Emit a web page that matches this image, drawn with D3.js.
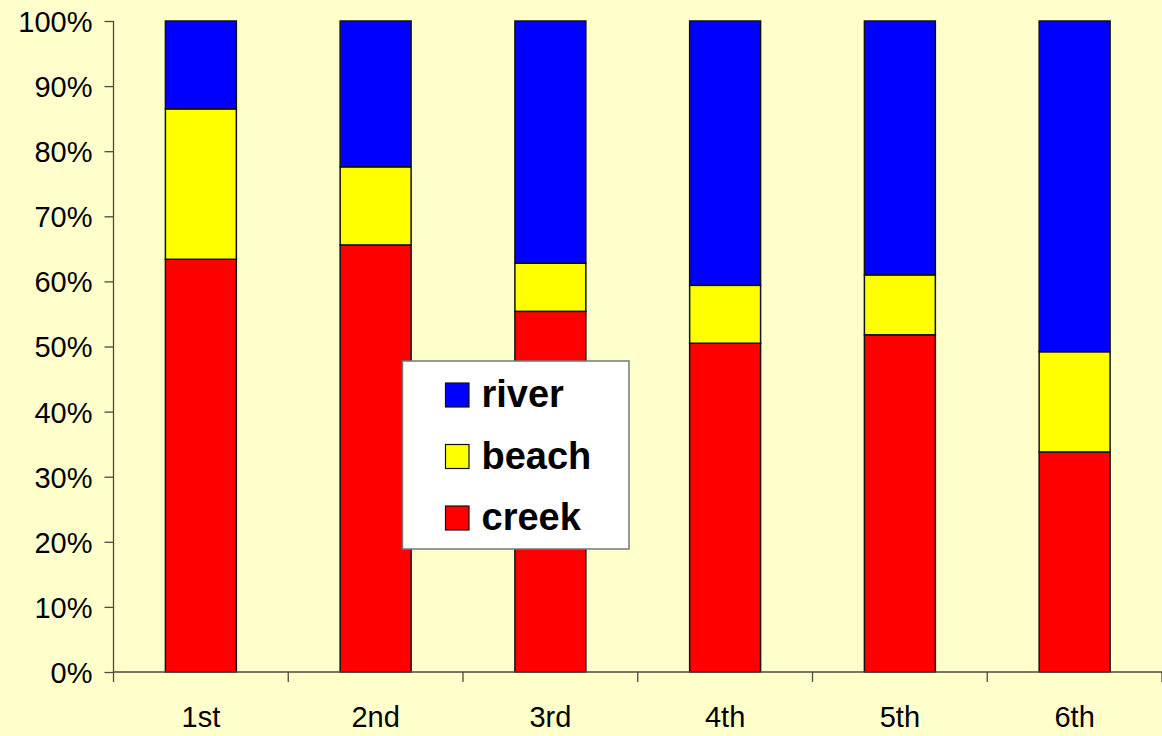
<!DOCTYPE html>
<html>
<head>
<meta charset="utf-8">
<script src="https://cdn.jsdelivr.net/npm/d3@7"></script>
<style>
  html, body { margin: 0; padding: 0; background: #FFFFCC; }
  svg { display: block; }
  text { font-family: "Liberation Sans", Arial, sans-serif; fill: #000; }
</style>
</head>
<body>
<svg id="chart" width="1162" height="736"></svg>
<script>
// Share of each site type per round (percent of total)
const categories = ["1st", "2nd", "3rd", "4th", "5th", "6th"];
const creek = [63.4, 65.6, 55.4, 50.5, 51.8, 33.8];
const beach = [23.1, 12.0, 7.4, 8.9, 9.2, 15.4];
const river = [13.5, 22.4, 37.2, 40.6, 39.0, 50.8];
const seriesKeys = ["creek", "beach", "river"];
const seriesColors = { creek: "#FF0000", beach: "#FFFF00", river: "#0000FF" };
const yTicks = [0, 0.1, 0.2, 0.3, 0.4, 0.5, 0.6, 0.7, 0.8, 0.9, 1.0];

const rows = categories.map((c, i) => ({ cat: c, creek: creek[i], beach: beach[i], river: river[i] }));

const svg = d3.select("#chart");
const W = 1162, H = 736;
const plotLeft = 113.5, plotRight = 1162, plotTop = 21, plotBottom = 672;
const axisColor = "#4a4a40";

svg.append("rect").attr("width", W).attr("height", H).attr("fill", "#FFFFCC");

const x = d3.scaleBand().domain(categories).range([plotLeft, plotRight]).paddingInner(0.594).paddingOuter(0.297);
const y = d3.scaleLinear().domain([0, 1]).range([plotBottom, plotTop]);

const stacked = d3.stack().keys(seriesKeys).offset(d3.stackOffsetExpand)(rows);

// Stacked bars
svg.append("g").selectAll("g").data(stacked).join("g")
  .attr("fill", d => seriesColors[d.key])
  .selectAll("rect").data(d => d).join("rect")
  .attr("x", d => x(d.data.cat))
  .attr("width", x.bandwidth())
  .attr("y", d => y(d[1]))
  .attr("height", d => y(d[0]) - y(d[1]))
  .attr("stroke", "#111")
  .attr("stroke-width", 1.5);

// Y axis
const yAxis = svg.append("g")
  .attr("transform", `translate(${plotLeft},0)`)
  .call(d3.axisLeft(y).tickValues(yTicks).tickFormat(d3.format(".0%")).tickSize(9).tickPadding(12));
yAxis.selectAll("text").attr("font-size", 29).attr("font-family", "Liberation Sans, Arial, sans-serif").attr("dy", "0.36em");
yAxis.select(".domain").attr("d", `M0,${plotTop}V${plotBottom}`);
yAxis.selectAll("line, path").attr("stroke", axisColor).attr("stroke-width", 1.3);

// X axis: tick marks sit at the band boundaries
const xAxisG = svg.append("g").attr("transform", `translate(0,${plotBottom})`);
xAxisG.append("line").attr("x1", plotLeft).attr("x2", plotRight).attr("y1", 0).attr("y2", 0);
const edges = d3.range(categories.length + 1).map(i => plotLeft + i * x.step());
xAxisG.selectAll("line.tick").data(edges).join("line")
  .attr("class", "tick")
  .attr("x1", d => d).attr("x2", d => d)
  .attr("y1", 0).attr("y2", 10);
xAxisG.selectAll("line").attr("stroke", axisColor).attr("stroke-width", 1.3);
xAxisG.selectAll("text").data(categories).join("text")
  .attr("x", d => x(d) + x.bandwidth() / 2)
  .attr("y", 55)
  .attr("text-anchor", "middle")
  .attr("font-size", 29)
  .text(d => d);

// Legend
const legend = svg.append("g").attr("transform", "translate(402.5,361)");
legend.append("rect").attr("width", 226.5).attr("height", 188)
  .attr("fill", "#FFFFFF").attr("stroke", "#777").attr("stroke-width", 1.5);
const legendOrder = ["river", "beach", "creek"];
const item = legend.selectAll("g.item").data(legendOrder).join("g")
  .attr("class", "item")
  .attr("transform", (d, i) => `translate(43,${22 + i * 61.5})`);
item.append("rect").attr("width", 23.5).attr("height", 24)
  .attr("fill", d => seriesColors[d]).attr("stroke", "#111").attr("stroke-width", 1.2);
item.append("text").attr("x", 36).attr("y", 24)
  .attr("font-size", 38).attr("font-weight", "bold")
  .text(d => d);
</script>
</body>
</html>
